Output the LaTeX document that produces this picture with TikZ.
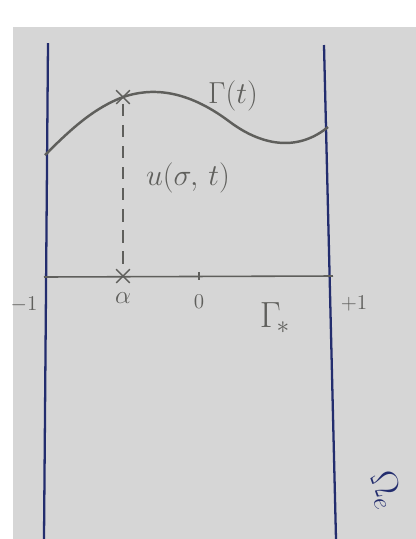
\documentclass[tikz,border=0pt]{standalone}
\usepackage{amsmath, amssymb}
\usepackage{tikz}
\usetikzlibrary{shapes.misc}

\definecolor{paper}{RGB}{214,214,214}
\definecolor{pencil}{RGB}{95,95,92}
\definecolor{ink}{RGB}{35,45,110}

\begin{document}
\begin{tikzpicture}[x = 0.02cm, y = -0.02cm]
\tikzstyle{wallStyle} = [draw = ink, line width = 1.3pt]
\tikzstyle{axisStyle} = [draw = pencil, line width = 0.9pt]
\tikzstyle{curveStyle} = [draw = pencil, line width = 1.4pt]
\tikzstyle{crossStyle} = [cross out, draw = pencil, line width = 0.8pt, minimum size = 7pt, inner sep = 0pt]
\tikzstyle{labelStyle} = [text = pencil, inner sep = 1pt]
\useasboundingbox (0,0) rectangle (416,539);
\fill[white] (0,0) rectangle (416,539);
\fill[paper] (13,27) rectangle (416,539);
% walls and axis
\coordinate (wl0) at (48,43);
\coordinate (wl1) at (44,539);
\coordinate (wr0) at (324,45);
\coordinate (wr1) at (336,539);
\coordinate (ax0) at (44,277);
\coordinate (ax1) at (333,276);
\draw[wallStyle] (wl0) -- (wl1);
\draw[wallStyle] (wr0) -- (wr1);
\draw[axisStyle] (ax0) -- (ax1);
% crosses
\node[crossStyle] (top) at (123,97) {};
\node[crossStyle] (foot) at (123,276) {};
\draw[axisStyle] (199,272) -- (199,280);
% free boundary
\coordinate (c0) at (45,155);
\coordinate (c1) at (328,127);
\draw[curveStyle] (c0) .. controls (75,125) and (95,108) .. (top.center)
  .. controls (150,88) and (185,88) .. (230,122)
  .. controls (265,148) and (300,150) .. (c1);
\draw[draw = pencil, line width = 0.8pt, dash pattern = on 7pt off 5pt] (top) -- (foot);
% labels
\node[labelStyle, font = \LARGE] (gt) at (233,96) {$\Gamma(t)$};
\node[labelStyle, font = \LARGE] (u) at (188,178) {$u(\sigma,\,t)$};
\node[labelStyle, font = \Large] (alpha) at (123,298) {$\alpha$};
\node[labelStyle, font = \large] (zero) at (199,302) {$0$};
\node[labelStyle, font = \large] (m1) at (24,305) {$-1$};
\node[labelStyle, font = \large] (p1) at (354,304) {$+1$};
\node[labelStyle, font = \huge] (gs) at (275,318) {$\Gamma_{\!*}$};
\node[text = ink, font = \huge, rotate = -70] (om) at (385,490) {$\Omega_e$};
\end{tikzpicture}
\end{document}
